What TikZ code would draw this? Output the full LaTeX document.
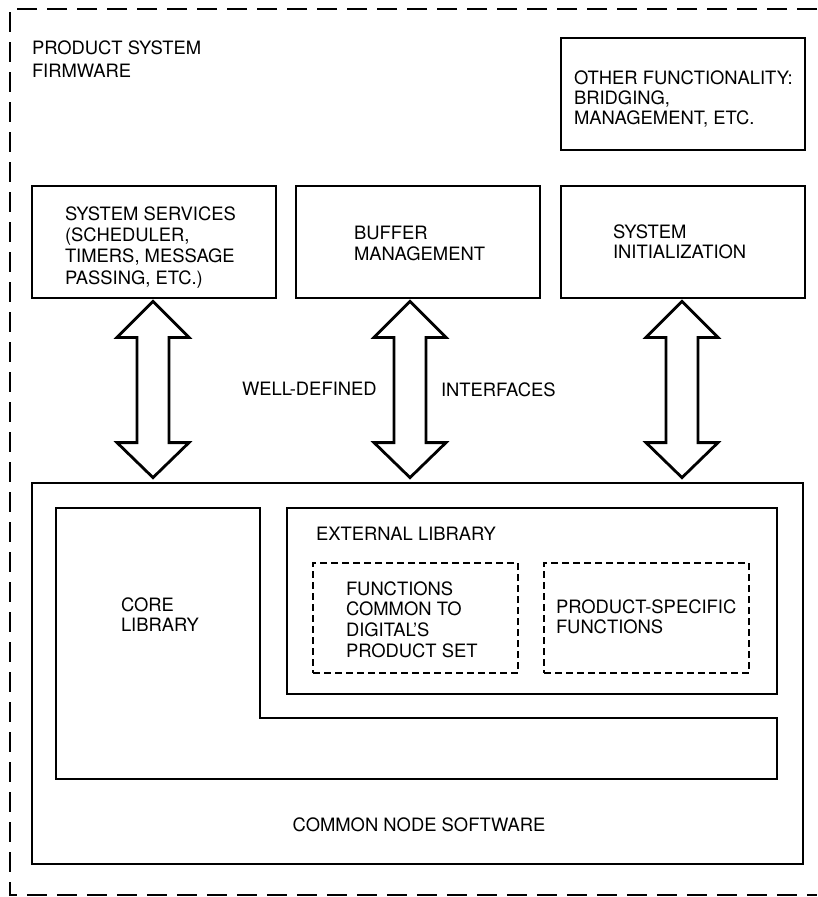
\documentclass[tikz,border=0pt]{standalone}
\usepackage{fontspec}
\setmainfont{TeX Gyre Heros}
\usetikzlibrary{calc}
\begin{document}
\begin{tikzpicture}[x=1pt,y=-1pt,
  every node/.style={font=\fontsize{18.4}{20.8}\selectfont},
  thickbox/.style={draw, line width=2.8pt, inner sep=0pt},
  thinbox/.style={draw, line width=1.2pt, inner sep=0pt},
  dashbox/.style={draw, line width=1.4pt, dash pattern=on 7pt off 4pt, inner sep=0pt},
  txt/.style={anchor=north west, align=left, inner sep=0pt, outer sep=0pt},
  outerdash/.style={line width=1.5pt, dash pattern=on 20pt off 10pt},
  dblarrow/.style={draw, line width=2.8pt, line join=miter, fill=white}]
\useasboundingbox (0,0) rectangle (817,897);
\fill[white] (0,0) rectangle (817,897);

% outer dashed frame
\coordinate (ftr) at (817,9);
\coordinate (ftl) at (10,9);
\coordinate (fbl) at (10,895);
\coordinate (fbr) at (817,895);
\draw[outerdash] (ftr) -- (ftl) -- (fbl) -- (fbr);

\node[txt, font=\fontsize{18.4}{23}\selectfont] (title) at (32,40.4) {PRODUCT SYSTEM\\FIRMWARE};

% top boxes
\node[thickbox, minimum width=244, minimum height=112] (other) at (683,94) {};
\node[txt, font=\fontsize{18.4}{20}\selectfont] (othert) at (574,70.4) {OTHER FUNCTIONALITY:\\BRIDGING,\\MANAGEMENT, ETC.};

\node[thickbox, minimum width=244, minimum height=112] (ss) at (154,242) {};
\node[txt, font=\fontsize{18.4}{21.3}\selectfont] (sst) at (65,206.4) {SYSTEM SERVICES\\(SCHEDULER,\\TIMERS, MESSAGE\\PASSING, ETC.)};

\node[thickbox, minimum width=244, minimum height=112] (bm) at (418,242) {};
\node[txt] (bmt) at (354,226.4) {BUFFER\\MANAGEMENT};

\node[thickbox, minimum width=244, minimum height=112] (si) at (683,242) {};
\node[txt, font=\fontsize{18.4}{20}\selectfont] (sit) at (613,224.4) {SYSTEM\\INITIALIZATION};

% common node software
\node[thickbox, minimum width=771, minimum height=381] (cns) at (417.5,673.5) {};
\node[inner sep=0pt] (cnst) at (419,825) {COMMON NODE SOFTWARE};

% core library (L shape)
\coordinate (c1) at (56,508);
\coordinate (c2) at (260,508);
\coordinate (c3) at (260,718);
\coordinate (c4) at (777,718);
\coordinate (c5) at (777,779);
\coordinate (c6) at (56,779);
\draw[line width=1.2pt] (c1) -- (c2) -- (c3) -- (c4) -- (c5) -- (c6) -- cycle;
\node[txt] (coret) at (121,597.4) {CORE\\LIBRARY};

% external library
\node[thinbox, minimum width=490, minimum height=186] (ext) at (532,601) {};
\node[txt] (extt) at (316,527.4) {EXTERNAL LIBRARY};
\node[dashbox, minimum width=205, minimum height=110] (d1) at (415.5,618) {};
\node[txt, font=\fontsize{18.4}{20.7}\selectfont] (d1t) at (346,581.4) {FUNCTIONS\\COMMON TO\\DIGITAL'S\\PRODUCT SET};
\node[dashbox, minimum width=205, minimum height=110] (d2) at (646.5,618) {};
\node[txt, font=\fontsize{18.4}{20}\selectfont] (d2t) at (556,599.4) {PRODUCT-SPECIFIC\\FUNCTIONS};

% interface labels
\node[txt] (wd) at (242,382.4) {WELL-DEFINED};
\node[txt] (intf) at (441,382.4) {INTERFACES};

% double arrows
\coordinate (a1t) at ($(ss.south)+(-1,2)$);
\coordinate (a2t) at ($(bm.south)+(-8,2)$);
\coordinate (a3t) at ($(si.south)+(-1,2)$);
\coordinate (a1b) at ($(a1t |- cns.north)+(0,-4)$);
\coordinate (a2b) at ($(a2t |- cns.north)+(0,-4)$);
\coordinate (a3b) at ($(a3t |- cns.north)+(0,-4)$);
\foreach \t/\b in {a1t/a1b, a2t/a2b, a3t/a3b}{
  \draw[dblarrow] (\t) -- ($(\t)+(36,36)$) -- ($(\t)+(16,36)$) -- ($(\b)+(16,-35)$)
    -- ($(\b)+(36,-35)$) -- (\b) -- ($(\b)+(-36,-35)$) -- ($(\b)+(-16,-35)$)
    -- ($(\t)+(-16,36)$) -- ($(\t)+(-36,36)$) -- cycle;
}
\end{tikzpicture}
\end{document}
